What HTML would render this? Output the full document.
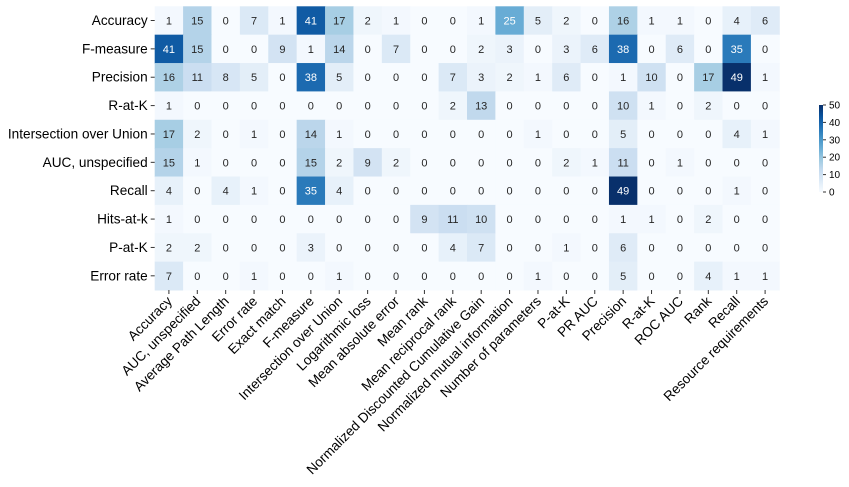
<!DOCTYPE html>
<html><head><meta charset="utf-8"><style>
body{margin:0;background:#fff;}
svg{display:block;font-family:"Liberation Sans","DejaVu Sans",sans-serif;}
</style></head><body>
<svg id="chart" width="849" height="487"></svg>
<script>
const rowLabels=["Accuracy","F-measure","Precision","R-at-K","Intersection over Union","AUC, unspecified","Recall","Hits-at-k","P-at-K","Error rate"];
const colLabels=["Accuracy","AUC, unspecified","Average Path Length","Error rate","Exact match","F-measure","Intersection over Union","Logarithmic loss","Mean absolute error","Mean rank","Mean reciprocal rank","Normalized Discounted Cumulative Gain","Normalized mutual information","Number of parameters","P-at-K","PR AUC","Precision","R-at-K","ROC AUC","Rank","Recall","Resource requirements"];
const values=[
[1,15,0,7,1,41,17,2,1,0,0,1,25,5,2,0,16,1,1,0,4,6],
[41,15,0,0,9,1,14,0,7,0,0,2,3,0,3,6,38,0,6,0,35,0],
[16,11,8,5,0,38,5,0,0,0,7,3,2,1,6,0,1,10,0,17,49,1],
[1,0,0,0,0,0,0,0,0,0,2,13,0,0,0,0,10,1,0,2,0,0],
[17,2,0,1,0,14,1,0,0,0,0,0,0,1,0,0,5,0,0,0,4,1],
[15,1,0,0,0,15,2,9,2,0,0,0,0,0,2,1,11,0,1,0,0,0],
[4,0,4,1,0,35,4,0,0,0,0,0,0,0,0,0,49,0,0,0,1,0],
[1,0,0,0,0,0,0,0,0,9,11,10,0,0,0,0,1,1,0,2,0,0],
[2,2,0,0,0,3,0,0,0,0,4,7,0,0,1,0,6,0,0,0,0,0],
[7,0,0,1,0,0,1,0,0,0,0,0,0,1,0,0,5,0,0,4,1,1]];
const cbTicks=[0,10,20,30,40,50];
const NS="http://www.w3.org/2000/svg";
const svg=document.getElementById('chart');
const X0=154.7,X1=779.3,Y0=6.3,Y1=290,VMAX=49;
const nc=colLabels.length,nr=rowLabels.length;
const cw=(X1-X0)/nc,rh=(Y1-Y0)/nr;
const xs=i=>X0+i*cw, ys=j=>Y0+j*rh;
const stops=[[247,251,255],[222,235,247],[198,219,239],[158,202,225],[107,174,214],[66,146,198],[33,113,181],[8,81,156],[8,48,107]];
function cmap(v){let t=Math.max(0,Math.min(1,v/VMAX))*8;let i=Math.min(7,Math.floor(t)),f=t-i;
const c=stops[i].map((a,k)=>a+(stops[i+1][k]-a)*f);return c;}
function lum(c){const l=c.map(x=>{x/=255;return x<=0.03928?x/12.92:Math.pow((x+0.055)/1.055,2.4)});return 0.2126*l[0]+0.7152*l[1]+0.0722*l[2];}
function el(tag,attrs,parent){const e=document.createElementNS(NS,tag);for(const k in attrs)e.setAttribute(k,attrs[k]);(parent||svg).appendChild(e);return e;}
const g=el('g',{});


values.forEach((row,j)=>row.forEach((v,i)=>{
 const c=cmap(v);
 const r=el('rect',{x:xs(i),y:ys(j),width:cw+0.5,height:rh+0.5,fill:`rgb(${c.map(Math.round).join(',')})`},g);
 
 
 const t=el('text',{x:xs(i)+cw/2,y:ys(j)+rh/2+4,'text-anchor':'middle','font-size':'11',fill:lum(c)>0.408?'#262626':'#ffffff'},g);
 t.textContent=v;
 
 
}));
rowLabels.forEach((l,j)=>{
 const y=ys(j)+rh/2;
 el('line',{x1:X0-4,x2:X0,y1:y,y2:y,stroke:'#333','stroke-width':1});
 const t=el('text',{x:X0-7,y:y+4.5,'text-anchor':'end','font-size':'13.6',fill:'#000'});
 t.textContent=l;
 
 
});
colLabels.forEach((l,i)=>{
 const x=xs(i)+cw/2;
 el('line',{x1:x,x2:x,y1:Y1,y2:Y1+4,stroke:'#333','stroke-width':1});
 const t=el('text',{x:x+4,y:Y1+12,'text-anchor':'end','font-size':'13.6',fill:'#000',transform:`rotate(-45 ${x+4} ${Y1+12})`});
 t.textContent=l;
 
 
});
const CBX=819,CBW=4,CBT=105,CBB=192;
const defs=el('defs',{});
const lg=el('linearGradient',{id:'cbg',x1:0,y1:1,x2:0,y2:0},defs);
for(let k=0;k<=8;k++){el('stop',{offset:k/8,'stop-color':`rgb(${stops[k].join(',')})`},lg);}
const cb=el('rect',{x:CBX,y:CBT,width:CBW,height:CBB-CBT,fill:'url(#cbg)'});


const cbY=v=>CBB-(v/50)*(CBB-CBT);
cbTicks.forEach(v=>{
 const y=cbY(v);
 el('line',{x1:CBX+CBW,x2:CBX+CBW+3,y1:y,y2:y,stroke:'#333','stroke-width':1});
 const t=el('text',{x:CBX+CBW+6,y:y+3.5,'font-size':'10',fill:'#000'});
 t.textContent=v;
 
 
});
</script>
</body></html>
